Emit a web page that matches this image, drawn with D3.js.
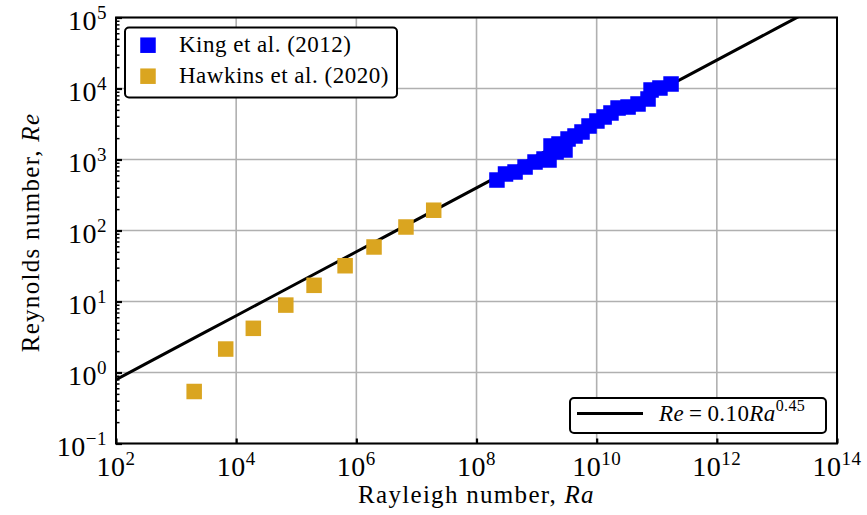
<!DOCTYPE html>
<html>
<head>
<meta charset="utf-8">
<script src="https://cdn.jsdelivr.net/npm/d3@7"></script>
<style>
  body { margin: 0; background: #fff; }
  svg { display: block; }
  text { font-family: "Liberation Serif", "Times New Roman", serif; fill: #000; }
</style>
</head>
<body>
<svg id="chart" width="867" height="515"></svg>
<script>
// King et al. (2012): rotating convection, Rayleigh vs Reynolds number
const raKing = [2.19e8, 3.04e8, 4.38e8, 6.43e8, 9.42e8, 1.33e9, 1.61e9, 1.74e9, 2.11e9, 2.36e9,
                2.97e9, 3.34e9, 4.36e9, 5.70e9, 7.46e9, 1.01e10, 1.33e10, 1.73e10, 2.27e10,
                3.33e10, 4.88e10, 7.16e10, 8.04e10, 1.13e11, 1.73e11];
const reKing = [514, 625, 667, 784, 922, 1016, 984, 1550, 1276, 1653,
                1361, 1945, 2143, 2440, 2963, 3486, 3970, 4519, 5311,
                5486, 6053, 7117, 9526, 10160, 11570];

// Hawkins et al. (2020)
const raHawkins = [2.0e3, 6.7e3, 1.93e4, 6.7e4, 1.98e5, 6.5e5, 1.97e6, 6.7e6, 1.94e7];
const reHawkins = [0.54, 2.14, 4.19, 8.9, 16.9, 31.9, 58.6, 112, 193];

// Power-law fit Re = a Ra^b
const fitCoef = 0.10;
const fitExp = 0.45;

// Axis decades
const xTickExps = [2, 4, 6, 8, 10, 12, 14];
const yTickExps = [-1, 0, 1, 2, 3, 4, 5];

const legendNames = ["King et al. (2012)", "Hawkins et al. (2020)"];
const colors = ["#0000ff", "#daa520"];

const svg = d3.select("#chart");
const pL = 116, pR = 837, pT = 17.5, pB = 443.5;
const W = pR - pL, H = pB - pT;

const x = d3.scaleLog().domain([1e2, 1e14]).range([pL, pR]);
const y = d3.scaleLog().domain([1e-1, 1e5]).range([pB, pT]);

const TICK_FONT = 28, SUP_FONT = 19;

// grid
const grid = svg.append("g").attr("stroke", "#b0b0b0").attr("stroke-width", 1.6);
xTickExps.forEach(e => {
  grid.append("line").attr("x1", x(10 ** e)).attr("x2", x(10 ** e)).attr("y1", pT).attr("y2", pB);
});
yTickExps.forEach(e => {
  grid.append("line").attr("y1", y(10 ** e)).attr("y2", y(10 ** e)).attr("x1", pL).attr("x2", pR);
});

// clip region for the fit line
svg.append("clipPath").attr("id", "plot-clip")
  .append("rect").attr("x", pL).attr("y", pT).attr("width", W).attr("height", H);

const fitRa = d3.range(2, 14.01, 0.5).map(e => 10 ** e);
const line = d3.line().x(d => x(d)).y(d => y(fitCoef * Math.pow(d, fitExp)));
svg.append("path")
  .datum(fitRa)
  .attr("clip-path", "url(#plot-clip)")
  .attr("d", line)
  .attr("fill", "none")
  .attr("stroke", "#000")
  .attr("stroke-width", 3);

// markers
const S = 15.5;
function squares(ra, re, color) {
  svg.append("g").selectAll("rect")
    .data(ra.map((r, i) => [r, re[i]]))
    .join("rect")
    .attr("x", d => x(d[0]) - S / 2)
    .attr("y", d => y(d[1]) - S / 2)
    .attr("width", S).attr("height", S)
    .attr("fill", color);
}
squares(raHawkins, reHawkins, colors[1]);
squares(raKing, reKing, colors[0]);

// frame
svg.append("rect").attr("x", pL).attr("y", pT).attr("width", W).attr("height", H)
  .attr("fill", "none").attr("stroke", "#000").attr("stroke-width", 2);

// x axis ticks (inward) and labels
const xAxis = d3.axisBottom(x).tickValues(xTickExps.map(e => 10 ** e)).tickSize(-5).tickFormat("");
const gx = svg.append("g").attr("transform", `translate(0,${pB})`).call(xAxis);
gx.select(".domain").remove();
gx.selectAll("line").attr("stroke-width", 2.2);

xTickExps.forEach(e => {
  const t = svg.append("text").attr("x", x(10 ** e)).attr("y", 476).attr("text-anchor", "middle")
    .style("font-size", TICK_FONT + "px").style("letter-spacing", "0.5px");
  t.append("tspan").text("10");
  t.append("tspan").attr("dy", -11).style("font-size", SUP_FONT + "px").text(String(e));
});

// y axis major + minor ticks (inward) and labels
const yAxis = d3.axisLeft(y).tickValues(yTickExps.map(e => 10 ** e)).tickSize(-6).tickFormat("");
const gy = svg.append("g").attr("transform", `translate(${pL},0)`).call(yAxis);
gy.select(".domain").remove();
gy.selectAll("line").attr("stroke-width", 2.2);

const minorVals = [];
yTickExps.slice(0, -1).forEach(e => { for (let m = 2; m < 10; m++) minorVals.push(m * 10 ** e); });
const yMinor = d3.axisLeft(y).tickValues(minorVals).tickSize(-3.5).tickFormat("");
const gym = svg.append("g").attr("transform", `translate(${pL},0)`).call(yMinor);
gym.select(".domain").remove();
gym.selectAll("line").attr("stroke-width", 1.5);

yTickExps.forEach(e => {
  const t = svg.append("text").attr("x", 107).attr("y", y(10 ** e) + 12).attr("text-anchor", "end")
    .style("font-size", TICK_FONT + "px").style("letter-spacing", "0.5px");
  t.append("tspan").text("10");
  t.append("tspan").attr("dy", -10.5).style("font-size", SUP_FONT + "px").text(String(e).replace("-", "\u2212"));
});

// axis labels
const xl = svg.append("text").attr("x", (pL + pR) / 2).attr("y", 503).attr("text-anchor", "middle")
  .style("font-size", "25px").style("letter-spacing", "1.3px");
xl.append("tspan").text("Rayleigh number, ");
xl.append("tspan").style("font-style", "italic").text("Ra");

const yl = svg.append("text").attr("transform", `translate(39,${(pT + pB) / 2 + 2}) rotate(-90)`)
  .attr("text-anchor", "middle").style("font-size", "25px").style("letter-spacing", "1.3px");
yl.append("tspan").text("Reynolds number, ");
yl.append("tspan").style("font-style", "italic").text("Re");

// data legend
const lg = svg.append("g");
lg.append("rect").attr("x", 125).attr("y", 27.5).attr("width", 272).attr("height", 70).attr("rx", 4)
  .attr("fill", "#fff").attr("stroke", "#000").attr("stroke-width", 2);
legendNames.forEach((name, i) => {
  const cy = 45.2 + i * 31;
  lg.append("rect").attr("x", 148 - S / 2).attr("y", cy - S / 2).attr("width", S).attr("height", S).attr("fill", colors[i]);
  lg.append("text").attr("x", 179).attr("y", cy + 7).style("font-size", "23px")
    .style("letter-spacing", "0.5px").text(name);
});

// fit legend
const fl = svg.append("g");
fl.append("rect").attr("x", 570).attr("y", 398).attr("width", 256).attr("height", 35).attr("rx", 4)
  .attr("fill", "#fff").attr("stroke", "#000").attr("stroke-width", 2);
fl.append("line").attr("x1", 577).attr("x2", 643).attr("y1", 413.5).attr("y2", 413.5)
  .attr("stroke", "#000").attr("stroke-width", 3);
const ft = fl.append("text").attr("x", 659).attr("y", 421).style("font-size", "23px").style("letter-spacing", "0.4px");
ft.append("tspan").style("font-style", "italic").text("Re");
ft.append("tspan").text(`\u2009=\u2009${fitCoef.toFixed(2)}`);
ft.append("tspan").style("font-style", "italic").text("Ra");
ft.append("tspan").attr("dy", -10).style("font-size", "16px").text(String(fitExp));
</script>
</body>
</html>
